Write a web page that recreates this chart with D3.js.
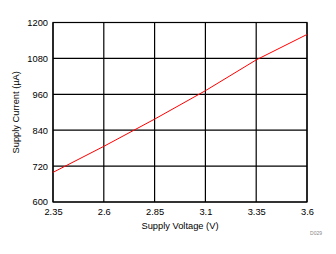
<!DOCTYPE html>
<html>
<head>
<meta charset="utf-8">
<script src="https://cdn.jsdelivr.net/npm/d3@7"></script>
<style>
  body { margin: 0; background: #fff; }
  svg text { font-family: "Liberation Sans", Arial, sans-serif; fill: #000; }
</style>
</head>
<body>
<div id="chart"></div>
<script>
const width = 336;
const height = 254;

// data
const voltage = [2.35, 2.6, 2.85, 3.1, 3.35, 3.6];
const current = [699, 786, 877, 972, 1075, 1160];
const xTicks = [2.35, 2.6, 2.85, 3.1, 3.35, 3.6];
const yTicks = [600, 720, 840, 960, 1080, 1200];

const margin = {top: 22.5, right: 29, bottom: 52, left: 53};

const x = d3.scaleLinear()
  .domain([2.35, 3.6])
  .range([margin.left, width - margin.right]);

const y = d3.scaleLinear()
  .domain([600, 1200])
  .range([height - margin.bottom, margin.top]);

const svg = d3.select('#chart').append('svg')
  .attr('width', width)
  .attr('height', height);

// grid
svg.append('g')
  .selectAll('line')
  .data(xTicks)
  .enter().append('line')
    .attr('x1', d => x(d)).attr('x2', d => x(d))
    .attr('y1', y(600)).attr('y2', y(1200))
    .attr('stroke', '#000').attr('stroke-width', 1.2);

svg.append('g')
  .selectAll('line')
  .data(yTicks)
  .enter().append('line')
    .attr('x1', x(2.35)).attr('x2', x(3.6))
    .attr('y1', d => y(d)).attr('y2', d => y(d))
    .attr('stroke', '#000').attr('stroke-width', 1.2);

// frame
svg.append('rect')
  .attr('x', x(2.35)).attr('y', y(1200))
  .attr('width', x(3.6) - x(2.35))
  .attr('height', y(600) - y(1200))
  .attr('fill', 'none')
  .attr('stroke', '#000').attr('stroke-width', 1.2);

// axes labels
const xAxis = d3.axisBottom(x).tickValues(xTicks).tickSize(0).tickPadding(6)
  .tickFormat(d => String(d));
svg.append('g')
  .attr('transform', `translate(0,${y(600)})`)
  .call(xAxis)
  .call(g => g.select('.domain').remove())
  .selectAll('text')
    .attr('font-size', 9.3)
    .attr('font-family', '"Liberation Sans", Arial, sans-serif');

const yAxis = d3.axisLeft(y).tickValues(yTicks).tickSize(0).tickPadding(5)
  .tickFormat(d3.format('d'));
svg.append('g')
  .attr('transform', `translate(${x(2.35)},0)`)
  .call(yAxis)
  .call(g => g.select('.domain').remove())
  .selectAll('text')
    .attr('font-size', 9.3)
    .attr('font-family', '"Liberation Sans", Arial, sans-serif');

// line
const line = d3.line()
  .x((d, i) => x(voltage[i]))
  .y(d => y(d));

svg.append('path')
  .datum(current)
  .attr('d', line)
  .attr('fill', 'none')
  .attr('stroke', '#ff0000')
  .attr('stroke-width', 1);

// titles
svg.append('text')
  .attr('x', (x(2.35) + x(3.6)) / 2)
  .attr('y', 229)
  .attr('text-anchor', 'middle')
  .attr('font-size', 9.3)
  .text('Supply Voltage (V)');

svg.append('text')
  .attr('transform', `translate(19,${(y(600) + y(1200)) / 2}) rotate(-90)`)
  .attr('text-anchor', 'middle')
  .attr('font-size', 9.3)
  .text('Supply Current (µA)');

svg.append('text')
  .attr('x', 322)
  .attr('y', 234.5)
  .attr('text-anchor', 'end')
  .attr('font-size', 5)
  .style('fill', '#888')
  .text('D029');
</script>
</body>
</html>
